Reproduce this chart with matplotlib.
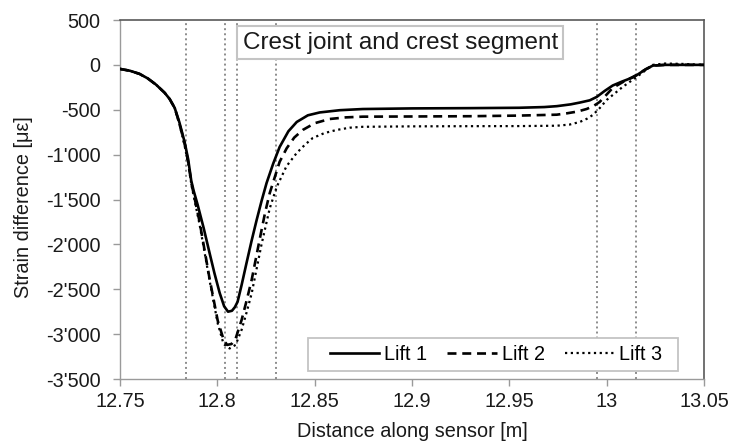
import matplotlib
matplotlib.use('Agg')
import matplotlib.pyplot as plt
from matplotlib.patches import Rectangle
from matplotlib.ticker import FuncFormatter, FixedLocator

plt.rcParams['font.family'] = ['Liberation Sans', 'DejaVu Sans']

# values
lift1_x = [12.75, 12.755, 12.76, 12.7642, 12.7685, 12.7729, 12.7755, 12.7781, 12.7805, 12.7832,
           12.785, 12.7866, 12.7878, 12.7899, 12.793, 12.796, 12.7985, 12.8012, 12.8035, 12.8055,
           12.8075, 12.809, 12.8104, 12.8125, 12.815, 12.8176, 12.8202, 12.8228, 12.8253, 12.8287,
           12.832, 12.8365, 12.8408, 12.8465, 12.8526, 12.8629, 12.8747, 12.90, 12.93, 12.955,
           12.968, 12.9744, 12.9815, 12.9862, 12.9913, 12.9949, 12.999, 13.0031, 13.008, 13.0134,
           13.0154, 13.02, 13.0237, 13.03, 13.05]
lift1_y = [-45, -65, -100, -150, -220, -310, -380, -480, -640, -860,
           -1050, -1290, -1400, -1560, -1820, -2095, -2320, -2541, -2690, -2750,
           -2740, -2700, -2640, -2450, -2207, -1960, -1728, -1510, -1316, -1100,
           -915, -740, -636, -562, -530, -505, -492, -485, -482, -478,
           -470, -460, -440, -420, -395, -357, -290, -230, -185, -140,
           -115, -50, -8, 0, 0]

lift2_x = [12.75, 12.755, 12.76, 12.7642, 12.7685, 12.7729, 12.7755, 12.7781, 12.7805, 12.7832,
           12.785, 12.7868, 12.7909, 12.796, 12.8002, 12.8032, 12.805, 12.8073, 12.8094, 12.8125,
           12.815, 12.8176, 12.8217, 12.8245, 12.8269, 12.832, 12.8356, 12.8395, 12.8439, 12.85,
           12.8577, 12.866, 12.8747, 12.90, 12.93, 12.955, 12.9744, 12.9795, 12.985, 12.9898,
           12.9935, 12.9964, 13.0, 13.0031, 13.008, 13.0134, 13.0154, 13.02, 13.0237, 13.03,
           13.05]
lift2_y = [-45, -65, -100, -150, -220, -310, -380, -480, -650, -880,
           -1080, -1330, -1750, -2380, -2850, -3060, -3120, -3110, -3050, -2840,
           -2630, -2400, -1950, -1650, -1430, -1080, -930, -810, -725, -650,
           -603, -585, -577, -575, -572, -565, -555, -540, -520, -491,
           -455, -413, -330, -257, -195, -135, -112, -50, -8, 0,
           0]

lift3_x = [12.75, 12.755, 12.76, 12.7642, 12.7685, 12.7729, 12.7755, 12.7781, 12.7805, 12.7832,
           12.785, 12.7868, 12.7909, 12.796, 12.8002, 12.8032, 12.8063, 12.8094, 12.8125, 12.815,
           12.8176, 12.8227, 12.8269, 12.8305, 12.8355, 12.8408, 12.845, 12.849, 12.855, 12.8613,
           12.868, 12.8747, 12.90, 12.93, 12.955, 12.9744, 12.981, 12.9862, 12.9899, 12.9929,
           12.9965, 13.0, 13.0082, 13.0154, 13.0237, 13.03, 13.04, 13.05]
lift3_y = [-45, -65, -100, -150, -220, -310, -380, -480, -660, -900,
           -1100, -1350, -1780, -2400, -2880, -3110, -3160, -3120, -2950, -2760,
           -2550, -2000, -1600, -1360, -1130, -981, -890, -815, -760, -725,
           -700, -690, -685, -683, -682, -678, -665, -636, -600, -558,
           -480, -391, -246, -135, 0, 15, 10, 0]

markers_x = [12.784, 12.804, 12.81, 12.83, 12.995, 13.015]
x_ticks = [12.75, 12.8, 12.85, 12.9, 12.95, 13.0, 13.05]
y_ticks = [500, 0, -500, -1000, -1500, -2000, -2500, -3000, -3500]

fig = plt.figure(figsize=(7.32, 4.44), dpi=100)
ax = fig.add_axes([120 / 732, 1 - 379 / 444, 584 / 732, 359 / 444])

for mx in markers_x:
    ax.axvline(mx, color='#8c8c8c', lw=1.4, ls=(0, (1, 1.6)), zorder=1)

ax.plot(lift1_x, lift1_y, color='black', lw=1.9, ls='-', label='Lift 1', zorder=3)
ax.plot(lift2_x, lift2_y, color='black', lw=1.9, ls=(0, (3.4, 2.2)), label='Lift 2', zorder=3)
ax.plot(lift3_x, lift3_y, color='black', lw=1.6, ls=(0, (1, 1.6)), label='Lift 3', zorder=3)

ax.set_xlim(12.75, 13.05)
ax.set_ylim(-3500, 500)
ax.xaxis.set_major_locator(FixedLocator(x_ticks))
ax.yaxis.set_major_locator(FixedLocator(y_ticks))
ax.xaxis.set_major_formatter(FuncFormatter(lambda v, p: '%g' % round(v, 2)))


def apostrophe(v, p):
    s = '{:,.0f}'.format(abs(v)).replace(',', "'")
    return ('-' + s) if v < 0 else s


ax.yaxis.set_major_formatter(FuncFormatter(apostrophe))

for side in ['left', 'bottom']:
    ax.spines[side].set_color('#9a9a9a')
    ax.spines[side].set_linewidth(1.0)
for side in ['top', 'right']:
    ax.spines[side].set_color('#595959')
    ax.spines[side].set_linewidth(1.2)

ax.tick_params(axis='both', direction='out', length=5, width=1, color='#9a9a9a',
               labelsize=14.3, labelcolor='#1a1a1a')
ax.tick_params(axis='y', pad=9)
ax.tick_params(axis='x', pad=4)

ax.set_xlabel('Distance along sensor [m]', fontsize=14.3, color='#1a1a1a', labelpad=8)
ax.set_ylabel('Strain difference [\u03bc\u03b5]', fontsize=14.3, color='#1a1a1a')
ax.yaxis.set_label_coords((33 - 120) / 584, (379 - 207) / 359)

ax.text(0.48, 0.937, 'Crest joint and crest segment', transform=ax.transAxes,
        ha='center', va='center', fontsize=17.5, color='#1a1a1a', zorder=5,
        bbox=dict(boxstyle='square,pad=0.22', facecolor='white', edgecolor='#c4c4c4', lw=1.5))

# legend box is wider than tall in the reference, so draw the frame by hand
ax.add_patch(Rectangle(((308 - 120) / 584, (379 - 371) / 359), 370 / 584, 33 / 359,
                       transform=ax.transAxes, facecolor='white', edgecolor='#c4c4c4',
                       lw=1.3, zorder=5))
leg = ax.legend(loc='center', bbox_to_anchor=(0.644, 0.068), ncol=3, fontsize=14.3,
                frameon=False, handlelength=2.5, handletextpad=0.25, columnspacing=1.0,
                borderpad=0, borderaxespad=0)
leg.set_zorder(6)

fig.savefig('out.png', dpi=100)
